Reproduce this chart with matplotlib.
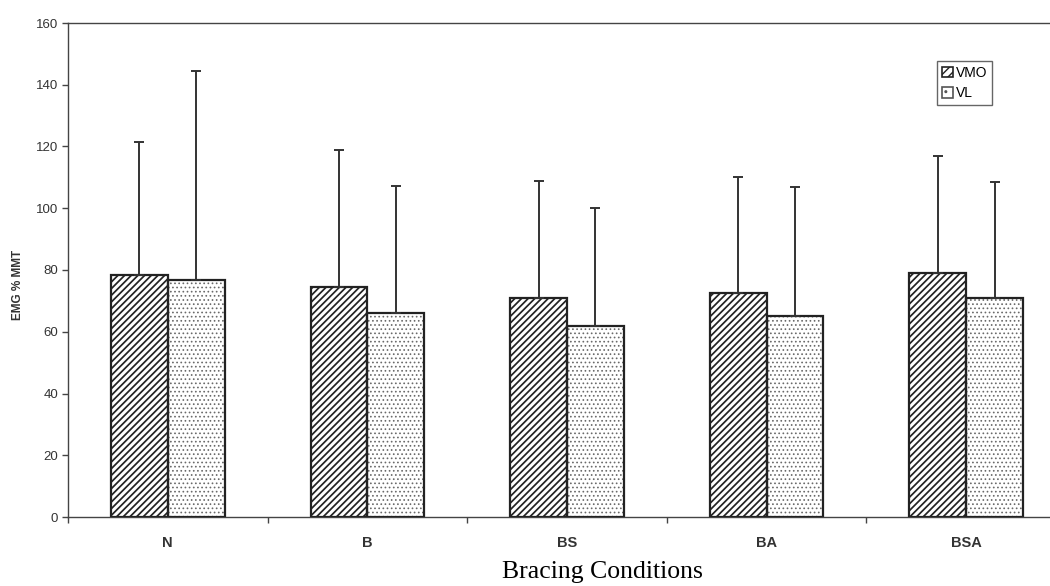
import numpy as np
import matplotlib
matplotlib.use('Agg')
import matplotlib.pyplot as plt
import matplotlib.patches as plp

# bracing conditions and EMG (% MMT) means / upper SD
conditions = ['N', 'B', 'BS', 'BA', 'BSA']
vmoMean = [78.5, 74.5, 71.0, 72.5, 79.0]
vmoSD = [43.0, 44.5, 37.7, 37.5, 38.0]
vlMean = [76.8, 66.0, 62.0, 65.0, 71.0]
vlSD = [67.7, 41.3, 38.0, 42.0, 37.5]
yTicks = [0, 20, 40, 60, 80, 100, 120, 140, 160]

plt.rcParams['font.family'] = ['Liberation Sans', 'DejaVu Sans']

fig = plt.figure(figsize = (10.5, 5.86), dpi = 100)
ax = fig.add_axes([68 / 1050, 69 / 586, 998 / 1050, 494 / 586])

centers = np.arange(len(conditions)) + 0.5
width = 0.285
axisColor = '#444444'

# VMO: dense diagonal hatch
plt.rcParams['hatch.linewidth'] = 1.25
ax.bar(centers - width / 2, vmoMean, width, color = 'white', edgecolor = '#222222',
       hatch = '/////', linewidth = 0, zorder = 2)
# VL: light grey dots
plt.rcParams['hatch.linewidth'] = 0.7
ax.bar(centers + width / 2, vlMean, width, color = 'white', edgecolor = '#6a6a6a',
       hatch = '....', linewidth = 0, zorder = 2)

ax.bar(centers - width / 2, vmoMean, width, fill = False, edgecolor = '#222222',
       linewidth = 1.6, zorder = 3)
ax.bar(centers + width / 2, vlMean, width, fill = False, edgecolor = '#222222',
       linewidth = 1.6, zorder = 3)

# only the upper half of the error bars is drawn
ax.errorbar(centers - width / 2, vmoMean, yerr = [np.zeros(len(vmoSD)), vmoSD], fmt = 'none',
            ecolor = '#333333', elinewidth = 1.4, capsize = 3.5, capthick = 1.4, zorder = 4)
ax.errorbar(centers + width / 2, vlMean, yerr = [np.zeros(len(vlSD)), vlSD], fmt = 'none',
            ecolor = '#333333', elinewidth = 1.4, capsize = 3.5, capthick = 1.4, zorder = 4)

ax.set_xlim(0, len(conditions))
ax.set_ylim(0, 160)
ax.set_yticks(yTicks)
ax.tick_params(axis = 'y', direction = 'out', length = 4, width = 1, color = axisColor,
               labelsize = 9.5, labelcolor = '#333333', pad = 3)

ax.set_xticks(np.arange(len(conditions) + 1))
ax.set_xticklabels([])
ax.tick_params(axis = 'x', which = 'major', direction = 'out', length = 4, width = 1, color = axisColor)
ax.set_xticks(centers, minor = True)
ax.set_xticklabels(conditions, minor = True, fontsize = 10.5, fontweight = 'bold', color = '#333333')
ax.tick_params(axis = 'x', which = 'minor', length = 0, pad = 14)

for side in ['left', 'top', 'bottom']:
    ax.spines[side].set_color(axisColor)
    ax.spines[side].set_linewidth(1)
ax.spines['right'].set_visible(False)

fig.text(18 / 1050, 1 - 285 / 586, 'EMG % MMT', rotation = 90, ha = 'center', va = 'center',
         fontsize = 8.5, fontweight = 'bold', color = '#333333',
         family = ['Liberation Sans Narrow', 'Liberation Sans', 'DejaVu Sans'])
fig.text(602 / 1050, 1 - 572 / 586, 'Bracing Conditions', ha = 'center', va = 'center',
         fontsize = 18.5, family = ['Liberation Serif', 'DejaVu Serif'])

plt.rcParams['hatch.linewidth'] = 1.0
handles = [plp.Patch(facecolor = 'white', edgecolor = '#222222', hatch = '////', linewidth = 1.2, label = 'VMO'),
           plp.Patch(facecolor = 'white', edgecolor = '#555555', hatch = '..', linewidth = 1.2, label = 'VL')]
fig.legend(handles = handles, loc = 'upper left', bbox_to_anchor = (937 / 1050, 1 - 61 / 586),
           bbox_transform = fig.transFigure, fontsize = 10, frameon = True, fancybox = False,
           edgecolor = '#666666', framealpha = 1, handlelength = 0.8, handleheight = 0.8,
           handletextpad = 0.2, borderpad = 0.35, labelspacing = 0.45, borderaxespad = 0)

fig.savefig('out.png', dpi = 100, facecolor = 'white')
